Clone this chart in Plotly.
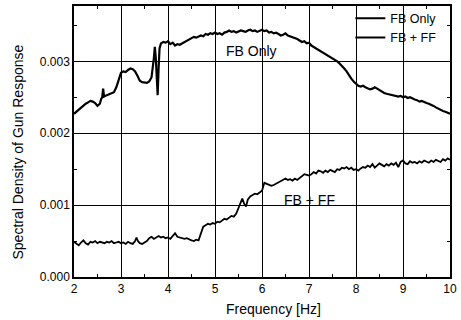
import plotly.graph_objects as go

freq_fb = [2.00,2.05,2.10,2.15,2.20,2.25,2.30,2.35,2.40,2.45,2.50,2.55,2.58,2.60,2.62,2.64,2.70,2.78,2.85,2.90,2.95,
           3.00,3.05,3.10,3.15,3.20,3.25,3.30,3.35,3.40,3.45,3.50,3.55,3.60,3.65,3.70,3.72,3.74,3.76,3.78,3.80,3.82,3.85,3.90,3.95,
           4.00,4.05,4.10,4.15,4.20,4.25,4.30,4.35,4.40,4.45,4.50,4.55,4.60,4.65,4.70,4.75,4.80,4.85,4.90,4.95,
           5.00,5.05,5.10,5.15,5.20,5.25,5.30,5.35,5.40,5.45,5.50,5.55,5.60,5.65,5.70,5.75,5.80,5.85,5.90,5.95,
           6.00,6.05,6.10,6.15,6.20,6.25,6.30,6.35,6.40,6.45,6.50,6.55,6.60,6.65,6.70,6.75,6.80,6.85,6.90,6.95,
           7.00,7.05,7.10,7.15,7.20,7.25,7.30,7.35,7.40,7.45,7.50,7.55,7.60,7.65,7.70,7.75,7.80,7.85,7.90,7.95,
           8.00,8.05,8.10,8.15,8.20,8.25,8.30,8.35,8.40,8.45,8.50,8.55,8.60,8.65,8.70,8.75,8.80,8.85,8.90,8.95,
           9.00,9.05,9.10,9.15,9.20,9.25,9.30,9.35,9.40,9.45,9.50,9.55,9.60,9.65,9.70,9.75,9.80,9.85,9.90,9.95,10.00]
fb_only = [2.27,2.30,2.32,2.35,2.38,2.41,2.43,2.45,2.44,2.42,2.38,2.41,2.48,2.50,2.62,2.51,2.53,2.55,2.57,2.64,2.74,
           2.84,2.86,2.85,2.88,2.90,2.89,2.86,2.80,2.73,2.71,2.71,2.70,2.72,2.78,3.05,3.20,3.05,2.70,2.53,2.90,3.18,3.25,3.27,3.26,
           3.28,3.24,3.26,3.22,3.24,3.23,3.25,3.27,3.29,3.31,3.32,3.34,3.33,3.35,3.36,3.35,3.38,3.37,3.39,3.38,
           3.40,3.38,3.39,3.37,3.40,3.41,3.43,3.41,3.42,3.40,3.41,3.43,3.42,3.41,3.43,3.44,3.42,3.43,3.41,3.43,
           3.44,3.42,3.43,3.40,3.41,3.39,3.40,3.38,3.36,3.37,3.39,3.36,3.35,3.34,3.32,3.31,3.29,3.27,3.28,3.25,
           3.26,3.22,3.20,3.18,3.16,3.14,3.12,3.11,3.08,3.06,3.04,3.02,3.00,2.97,2.94,2.90,2.86,2.80,2.76,2.72,
           2.69,2.66,2.65,2.66,2.64,2.63,2.61,2.62,2.64,2.62,2.60,2.57,2.56,2.55,2.54,2.54,2.53,2.52,2.51,2.52,
           2.50,2.51,2.49,2.50,2.48,2.47,2.46,2.44,2.45,2.43,2.42,2.41,2.40,2.38,2.36,2.34,2.33,2.31,2.30,2.29,2.27]

freq_ff = [2.00,2.05,2.10,2.15,2.20,2.25,2.30,2.35,2.40,2.45,2.50,2.55,2.60,2.65,2.70,2.75,2.80,2.85,2.90,2.95,
           3.00,3.05,3.10,3.15,3.20,3.25,3.30,3.33,3.36,3.40,3.45,3.50,3.55,3.60,3.65,3.70,3.75,3.80,3.85,3.90,3.95,
           4.00,4.05,4.10,4.15,4.20,4.25,4.30,4.35,4.40,4.45,4.50,4.55,4.60,4.65,4.70,4.75,4.80,4.85,4.90,4.95,
           5.00,5.05,5.10,5.15,5.20,5.25,5.30,5.35,5.40,5.45,5.50,5.55,5.58,5.62,5.66,5.70,5.75,5.80,5.85,5.90,5.95,
           6.00,6.05,6.10,6.15,6.20,6.25,6.30,6.35,6.40,6.45,6.50,6.55,6.60,6.65,6.70,6.75,6.80,6.85,6.90,6.95,
           7.00,7.05,7.10,7.15,7.20,7.25,7.30,7.35,7.40,7.45,7.50,7.55,7.60,7.65,7.70,7.75,7.80,7.85,7.90,7.95,
           8.00,8.05,8.10,8.15,8.20,8.25,8.30,8.35,8.40,8.45,8.50,8.55,8.60,8.65,8.70,8.75,8.80,8.85,8.90,8.95,
           9.00,9.05,9.10,9.15,9.20,9.25,9.30,9.35,9.40,9.45,9.50,9.55,9.60,9.65,9.70,9.75,9.80,9.85,9.90,9.95,10.00]
fb_ff = [0.49,0.46,0.44,0.48,0.51,0.47,0.45,0.49,0.48,0.50,0.47,0.49,0.48,0.47,0.49,0.48,0.50,0.47,0.48,0.49,
         0.47,0.48,0.46,0.49,0.47,0.46,0.50,0.55,0.50,0.47,0.46,0.48,0.50,0.54,0.56,0.53,0.55,0.57,0.55,0.56,0.54,
         0.55,0.53,0.57,0.61,0.56,0.55,0.54,0.53,0.54,0.52,0.51,0.50,0.52,0.51,0.62,0.70,0.72,0.74,0.73,0.75,
         0.74,0.77,0.76,0.79,0.81,0.80,0.83,0.85,0.84,0.88,0.96,1.03,1.09,1.02,0.98,1.08,1.12,1.14,1.16,1.15,1.18,
         1.20,1.31,1.30,1.29,1.27,1.28,1.30,1.32,1.33,1.35,1.37,1.35,1.36,1.34,1.37,1.35,1.38,1.40,1.43,1.42,
         1.41,1.43,1.46,1.44,1.48,1.47,1.45,1.48,1.46,1.49,1.47,1.46,1.50,1.49,1.52,1.51,1.53,1.50,1.52,1.49,
         1.50,1.48,1.51,1.53,1.52,1.55,1.53,1.57,1.52,1.55,1.58,1.56,1.54,1.57,1.55,1.58,1.56,1.59,1.53,1.60,
         1.62,1.58,1.57,1.61,1.59,1.60,1.58,1.61,1.59,1.62,1.60,1.59,1.62,1.60,1.63,1.61,1.60,1.64,1.62,1.65,1.63]

x_ticks = [2, 3, 4, 5, 6, 7, 8, 9, 10]
y_ticks = [0.000, 0.001, 0.002, 0.003]
y_tick_labels = ["0.000", "0.001", "0.002", "0.003"]

FONT = "Liberation Sans, Arial, sans-serif"

fig = go.Figure()
fig.add_trace(go.Scatter(x=freq_fb, y=[v / 1000 for v in fb_only], mode="lines",
                         name="FB Only", line=dict(color="black", width=2.2)))
fig.add_trace(go.Scatter(x=freq_ff, y=[v / 1000 for v in fb_ff], mode="lines",
                         name="FB + FF", line=dict(color="black", width=1.8)))

axis_common = dict(showline=True, linecolor="black", linewidth=1.5, mirror="allticks",
                   ticks="inside", ticklen=5, tickcolor="black",
                   showgrid=True, gridcolor="black", gridwidth=1, zeroline=False,
                   tickfont=dict(family=FONT, size=12, color="black"))

fig.update_xaxes(range=[2, 10], tickvals=x_ticks, ticktext=[str(t) for t in x_ticks],
                 minor=dict(dtick=0.5, ticks="inside", ticklen=3, tickcolor="black", showgrid=False),
                 **axis_common)
fig.update_yaxes(range=[0, 0.00377], tickvals=y_ticks, ticktext=y_tick_labels,
                 minor=dict(dtick=0.0005, ticks="inside", ticklen=3, tickcolor="black", showgrid=False),
                 **axis_common)

fig.update_layout(
    width=461, height=320,
    margin=dict(l=74, r=11, t=5, b=43),
    paper_bgcolor="white", plot_bgcolor="white",
    font=dict(family=FONT, size=12, color="black"),
    showlegend=True,
    legend=dict(x=0.735, y=1.005, xanchor="left", yanchor="top",
                bgcolor="rgba(0,0,0,0)", borderwidth=0,
                font=dict(family=FONT, size=12.5, color="black"),
                tracegroupgap=0, itemwidth=30),
    annotations=[
        dict(x=5.77, y=0.00315, xref="x", yref="y", text="FB Only", showarrow=False,
             font=dict(family=FONT, size=14, color="black")),
        dict(x=7.02, y=0.00107, xref="x", yref="y", text="FB + FF", showarrow=False,
             font=dict(family=FONT, size=14, color="black")),
        dict(x=0.53, y=-0.118, xref="paper", yref="paper", text="Frequency [Hz]", showarrow=False,
             xanchor="center", yanchor="middle", font=dict(family=FONT, size=14, color="black")),
        dict(x=-0.149, y=0.463, xref="paper", yref="paper", text="Spectral Density of Gun Response",
             showarrow=False, textangle=-90, xanchor="center", yanchor="middle",
             font=dict(family=FONT, size=14, color="black")),
    ],
)

fig.write_html("out.html")
